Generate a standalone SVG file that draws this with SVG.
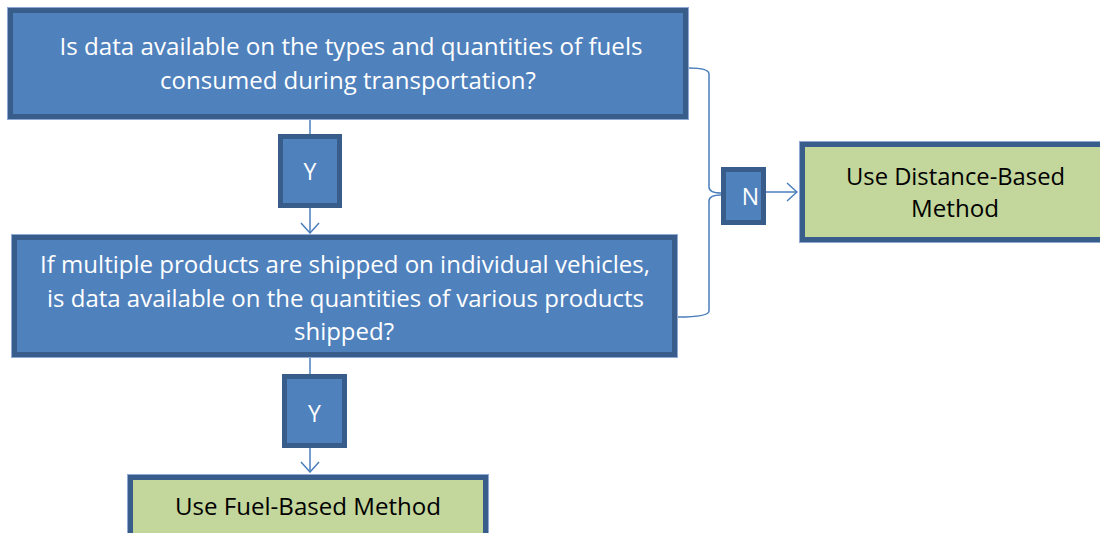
<svg xmlns="http://www.w3.org/2000/svg" width="1100" height="533" viewBox="0 0 1100 533">
  <defs>
    <style>
      .q { fill: #4F81BD; stroke: #385D8A; stroke-width: 5; }
      .r { fill: #C3D69B; stroke: #385D8A; stroke-width: 5; }
      .halo { fill: none; stroke: #8EA9D3; stroke-width: 1; }
      .wt { font-family: "Open Sans", "Liberation Sans", sans-serif; font-size: 23.5px; fill: #FFFFFF; text-anchor: middle; }
      .bt { font-family: "Open Sans", "Liberation Sans", sans-serif; font-size: 23.5px; fill: #000000; text-anchor: middle; }
      .lbl { font-family: "Open Sans", "Liberation Sans", sans-serif; font-size: 23px; fill: #FFFFFF; text-anchor: middle; }
      .link { fill: none; stroke: #4A7EBB; stroke-width: 1.5; }
    </style>
    <marker id="open" viewBox="0 0 12 20" refX="11" refY="10" markerWidth="12" markerHeight="20" markerUnits="userSpaceOnUse" orient="auto">
      <path d="M1,1 L11,10 L1,19" fill="none" stroke="#4A7EBB" stroke-width="1.5"/>
    </marker>
  </defs>

  <rect width="1100" height="533" fill="#FFFFFF"/>

  <!-- connectors -->
  <g id="connectors">
    <line class="link" x1="310" y1="120" x2="310" y2="134"/>
    <line class="link" x1="310" y1="208" x2="310" y2="233" marker-end="url(#open)"/>
    <line class="link" x1="310" y1="358" x2="310" y2="374"/>
    <line class="link" x1="310" y1="448" x2="310" y2="472" marker-end="url(#open)"/>
    <path class="link" d="M689,68 C700,68 709,69 709,74 L709,187 C709,191 714,193 721,193"/>
    <path class="link" d="M678,317 C692,317 709,316 709,311 L709,201 C709,197 714,195 721,195"/>
    <line class="link" x1="766" y1="192" x2="797" y2="192" marker-end="url(#open)"/>
  </g>

  <!-- first question -->
  <g id="q-fuel-data">
    <rect class="halo" x="7.5" y="7.5" width="681" height="112"/>
    <rect class="q" x="10.5" y="10.5" width="675" height="106"/>
    <text class="wt" x="351" y="55" textLength="583" lengthAdjust="spacingAndGlyphs">Is data available on the types and quantities of fuels</text>
    <text class="wt" x="348" y="89" textLength="376" lengthAdjust="spacingAndGlyphs">consumed during transportation?</text>
  </g>

  <!-- yes label, first question -->
  <g id="yes-1">
    <rect class="q" x="280.5" y="136.5" width="59" height="69"/>
    <text class="lbl" x="310" y="180">Y</text>
  </g>

  <!-- second question -->
  <g id="q-product-data">
    <rect class="halo" x="11.5" y="234.5" width="666" height="123"/>
    <rect class="q" x="14.5" y="237.5" width="660" height="117"/>
    <text class="wt" x="345" y="273" textLength="610" lengthAdjust="spacingAndGlyphs">If multiple products are shipped on individual vehicles,</text>
    <text class="wt" x="345.5" y="307" textLength="597" lengthAdjust="spacingAndGlyphs">is data available on the quantities of various products</text>
    <text class="wt" x="344" y="340" textLength="100" lengthAdjust="spacingAndGlyphs">shipped?</text>
  </g>

  <!-- yes label, second question -->
  <g id="yes-2">
    <rect class="q" x="284.5" y="376.5" width="60" height="69"/>
    <text class="lbl" x="314.5" y="422">Y</text>
  </g>

  <!-- no label -->
  <g id="no">
    <rect class="q" x="723.5" y="169.5" width="40" height="53"/>
    <text class="lbl" x="750.5" y="205">N</text>
  </g>

  <!-- distance-based result -->
  <g id="r-distance">
    <rect class="halo" x="799.5" y="141.5" width="310" height="101"/>
    <rect class="r" x="802.5" y="144.5" width="310" height="95"/>
    <text class="bt" x="955.5" y="185" textLength="219" lengthAdjust="spacingAndGlyphs">Use Distance-Based</text>
    <text class="bt" x="955" y="217" textLength="88" lengthAdjust="spacingAndGlyphs">Method</text>
  </g>

  <!-- fuel-based result -->
  <g id="r-fuel">
    <rect class="halo" x="127.5" y="474.5" width="361" height="70"/>
    <rect class="r" x="130.5" y="477.5" width="355" height="70"/>
    <text class="bt" x="308" y="515" textLength="266" lengthAdjust="spacingAndGlyphs">Use Fuel-Based Method</text>
  </g>
</svg>
